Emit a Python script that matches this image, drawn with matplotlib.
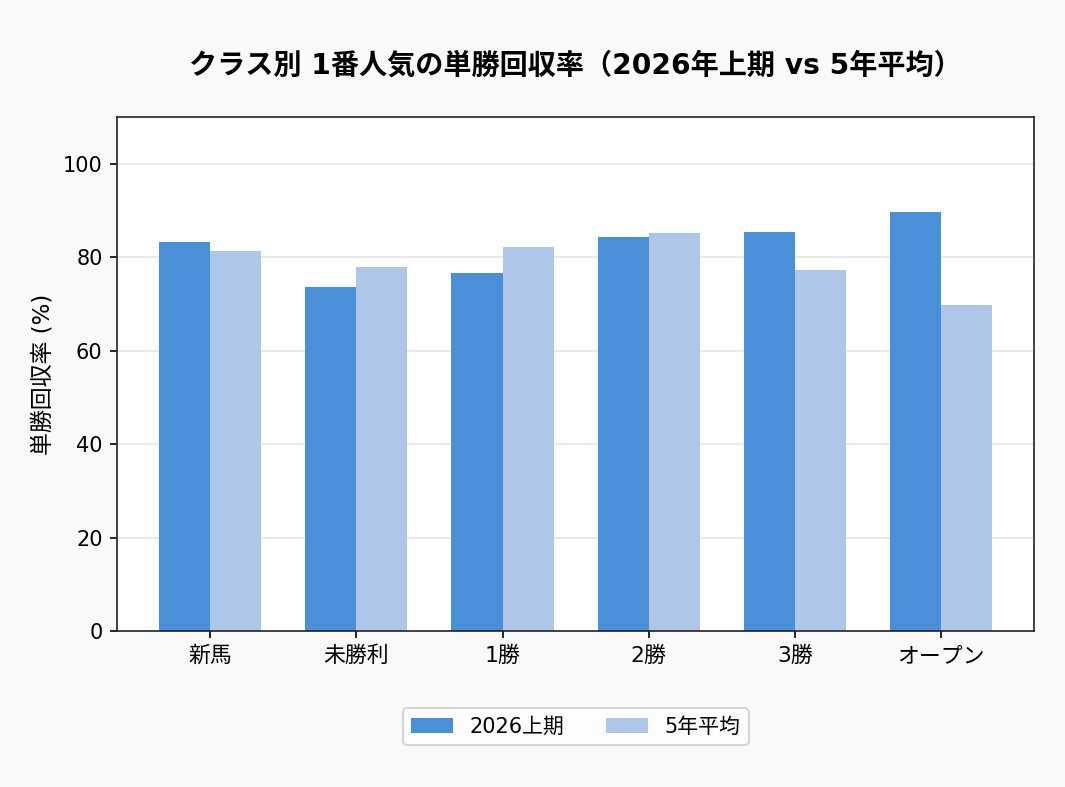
import numpy as np
import matplotlib
matplotlib.use("Agg")
import matplotlib.pyplot as plt

plt.rcParams['font.family'] = ['DejaVu Sans', 'Noto Sans CJK JP']

classes = ['新馬', '未勝利', '1勝', '2勝', '3勝', 'オープン']
rate_2026 = [83.4, 73.7, 76.7, 84.4, 85.5, 89.7]
rate_5yr = [81.4, 78.0, 82.3, 85.3, 77.4, 69.9]

x = np.arange(len(classes))
w = 0.35

fig = plt.figure(figsize=(7.1, 787 / 150), dpi=150, facecolor='#f9f9f9')
ax = fig.add_axes([0.110, 0.198, 0.861, 0.653])
ax.bar(x - w / 2, rate_2026, w, color='#4a90d9', label='2026上期', zorder=2)
ax.bar(x + w / 2, rate_5yr, w, color='#aec7e8', label='5年平均', zorder=2)

ax.set_ylim(0, 110)
ax.set_xticks(x)
ax.set_xticklabels(classes, fontsize=10.5)
ax.tick_params(axis='y', labelsize=10)
ax.set_ylabel('単勝回収率 (%)', fontsize=11)
ax.grid(axis='y', color='#e6e6e6', linewidth=0.8, zorder=0)
ax.set_axisbelow(True)
for s in ax.spines.values():
    s.set_color('#222222')

ax.set_title('クラス別 1番人気の単勝回収率（2026年上期 vs 5年平均）',
             fontsize=13.5, fontweight='bold', pad=21)
ax.legend(loc='upper center', bbox_to_anchor=(0.5, -0.13), ncol=2,
          fontsize=10, frameon=True, edgecolor='#cccccc')

fig.savefig('out.png', dpi=150, facecolor=fig.get_facecolor())
